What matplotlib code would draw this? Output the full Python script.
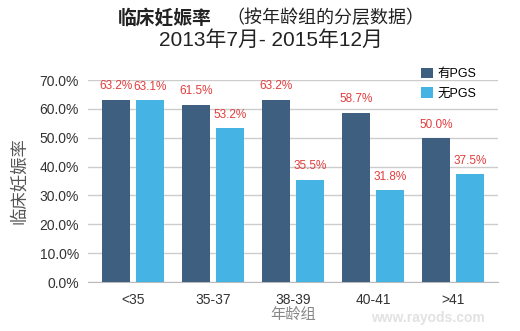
import numpy as np
import matplotlib.pyplot as plt

plt.rcParams['font.family'] = ['Liberation Sans', 'Noto Sans CJK SC', 'DejaVu Sans']

groups = ['<35', '35-37', '38-39', '40-41', '>41']
with_pgs = [63.2, 61.5, 63.2, 58.7, 50.0]
without_pgs = [63.1, 53.2, 35.5, 31.8, 37.5]
series_names = ['有PGS', '无PGS']

dark = '#3e5f7f'
light = '#45b4e4'
red = '#e23c3c'

fig = plt.figure(figsize=(5.2, 3.31), dpi=100)
ax = fig.add_axes([88 / 520, 1 - 282 / 331, 410 / 520, 202 / 331])

x = np.arange(len(groups))
w = 0.35
off = 0.21
b1 = ax.bar(x - off, with_pgs, w, color=dark, label=series_names[0], zorder=3)
b2 = ax.bar(x + off, without_pgs, w, color=light, label=series_names[1], zorder=3)

for bars, vals in ((b1, with_pgs), (b2, without_pgs)):
    for r, v in zip(bars, vals):
        ax.text(r.get_x() + r.get_width() / 2, v + 2.5, f'{v:.1f}%',
                ha='center', va='bottom', color=red, fontsize=8.5)

ax.set_xlim(-0.56, 4.56)
ax.set_ylim(0, 70)
ax.set_yticks(np.arange(0, 71, 10))
ax.set_yticklabels([f'{t:.1f}%' for t in np.arange(0, 71, 10)])
ax.set_xticks(x)
ax.set_xticklabels(groups)
ax.tick_params(axis='both', length=0, labelsize=10, colors='#333333')
ax.tick_params(axis='y', pad=6.5)
ax.tick_params(axis='x', pad=8)
ax.grid(axis='y', color='#cccccc', linewidth=1, zorder=0)
for s in ['left', 'right', 'top']:
    ax.spines[s].set_visible(False)
ax.spines['bottom'].set_color('#bbbbbb')

ax.set_ylabel('临床妊娠率', fontsize=12.5, color='#555555', labelpad=9)
ax.set_xlabel('年龄组', fontsize=11, color='#888888', labelpad=0)

ax.legend(loc='upper right', bbox_to_anchor=(0.96, 1.085), frameon=False,
          fontsize=9, handlelength=0.9, handleheight=0.9, handletextpad=0.4,
          labelspacing=0.55, borderaxespad=0)

fig.text(118 / 520, 1 - 18 / 331, '临床妊娠率', fontsize=13.5, fontweight='bold',
         ha='left', va='center', color='#222222')
fig.text(226 / 520, 1 - 18 / 331, '（按年龄组的分层数据）', fontsize=13,
         ha='left', va='center', color='#222222')
fig.text(271 / 520, 1 - 40 / 331, '2013年7月- 2015年12月', fontsize=15,
         ha='center', va='center', color='#222222')

fig.text(428 / 520, 1 - 318 / 331, 'www.rayods.com', fontsize=10, color='#e2e2e2',
         ha='center', va='center', fontweight='bold')

fig.savefig('out.png', dpi=100)
